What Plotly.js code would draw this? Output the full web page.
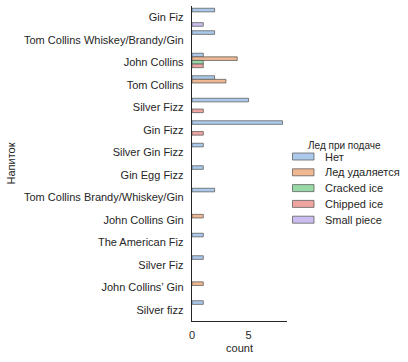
<!DOCTYPE html>
<html>
<head>
<meta charset="utf-8">
<script src="https://cdn.plot.ly/plotly-3.0.1.min.js"></script>
<style>html,body{margin:0;padding:0;background:#fff;}#chart{width:408px;height:362px;}</style>
</head>
<body>
<div id="chart"></div>
<script>
const drinks = ["Gin Fiz","Tom Collins Whiskey/Brandy/Gin","John Collins","Tom Collins","Silver Fizz","Gin Fizz","Silver Gin Fizz","Gin Egg Fizz","Tom Collins Brandy/Whiskey/Gin","John Collins Gin","The American Fiz","Silver Fiz","John Collins’ Gin","Silver fizz"];
const iceTypes = ["Нет","Лед удаляется","Cracked ice","Chipped ice","Small piece"];
const countNet      = [2,2,1,2,5,8,1,1,2,0,1,1,0,1];
const countRemoved  = [0,0,4,3,0,0,0,0,0,1,0,0,1,0];
const countCracked  = [0,0,1,0,0,0,0,0,0,0,0,0,0,0];
const countChipped  = [0,0,1,0,1,1,0,0,0,0,0,0,0,0];
const countSmall    = [1,0,0,0,0,0,0,0,0,0,0,0,0,0];
const seriesValues = [countNet,countRemoved,countCracked,countChipped,countSmall];
const colors = ["#abc9ea","#efb792","#98d9a8","#eea5a2","#cbbdf0"];
const legendTitle = "Лед при подаче";

const textColor = "#262626";
const edgeColor = "rgba(90,90,90,0.75)";
const M = {l:192,r:121,t:6,b:41};
const W = 408, H = 362;
const pw = W-M.l-M.r, ph = H-M.t-M.b;
const px = p => (p-M.l)/pw;
const py = p => (H-M.b-p)/ph;

const traces = iceTypes.map((name,i)=>({
  type:"bar",
  orientation:"h",
  name:name,
  y:drinks,
  x:seriesValues[i].map(v=>v===0?null:v),
  marker:{color:colors[i],line:{color:edgeColor,width:1}},
  hoverinfo:"x+y+name"
}));

// custom legend (seaborn-style patches)
const shapes = [];
const annotations = [{
  xref:"paper",yref:"paper",x:px(344),y:py(145.5),xanchor:"center",yanchor:"middle",
  text:legendTitle,showarrow:false,font:{size:10,color:textColor}
}];
iceTypes.forEach((name,i)=>{
  const cy = 156.5 + i*15.8;
  shapes.push({type:"rect",xref:"paper",yref:"paper",
    x0:px(292.5),x1:px(314),y0:py(cy-3.5),y1:py(cy+3.5),
    fillcolor:colors[i],line:{color:edgeColor,width:1}});
  annotations.push({xref:"paper",yref:"paper",x:px(322.5),y:py(cy),xanchor:"left",yanchor:"middle",
    text:name,showarrow:false,font:{size:11,color:textColor}});
});

const layout = {
  width:W,height:H,
  margin:M,
  paper_bgcolor:"#fff",plot_bgcolor:"#fff",
  font:{family:"Liberation Sans, Arial, sans-serif",size:11,color:textColor},
  barmode:"group",bargap:0.2,bargroupgap:0,
  showlegend:false,
  xaxis:{
    range:[0,8.4],tickvals:[0,5],ticks:"",showgrid:false,zeroline:false,
    showline:true,linecolor:textColor,linewidth:1.25,
    tickfont:{size:11,color:textColor},ticklabelstandoff:4,
    title:{text:"count",font:{size:11,color:textColor},standoff:3}
  },
  yaxis:{
    type:"category",autorange:"reversed",ticks:"",showgrid:false,zeroline:false,
    showline:true,linecolor:textColor,linewidth:1.25,
    tickfont:{size:11,color:textColor},ticklabelstandoff:5,
    title:{text:"Напиток",font:{size:11,color:textColor},standoff:6}
  },
  shapes:shapes,
  annotations:annotations
};
Plotly.newPlot("chart",traces,layout,{displayModeBar:false,staticPlot:true});
</script>
</body>
</html>
